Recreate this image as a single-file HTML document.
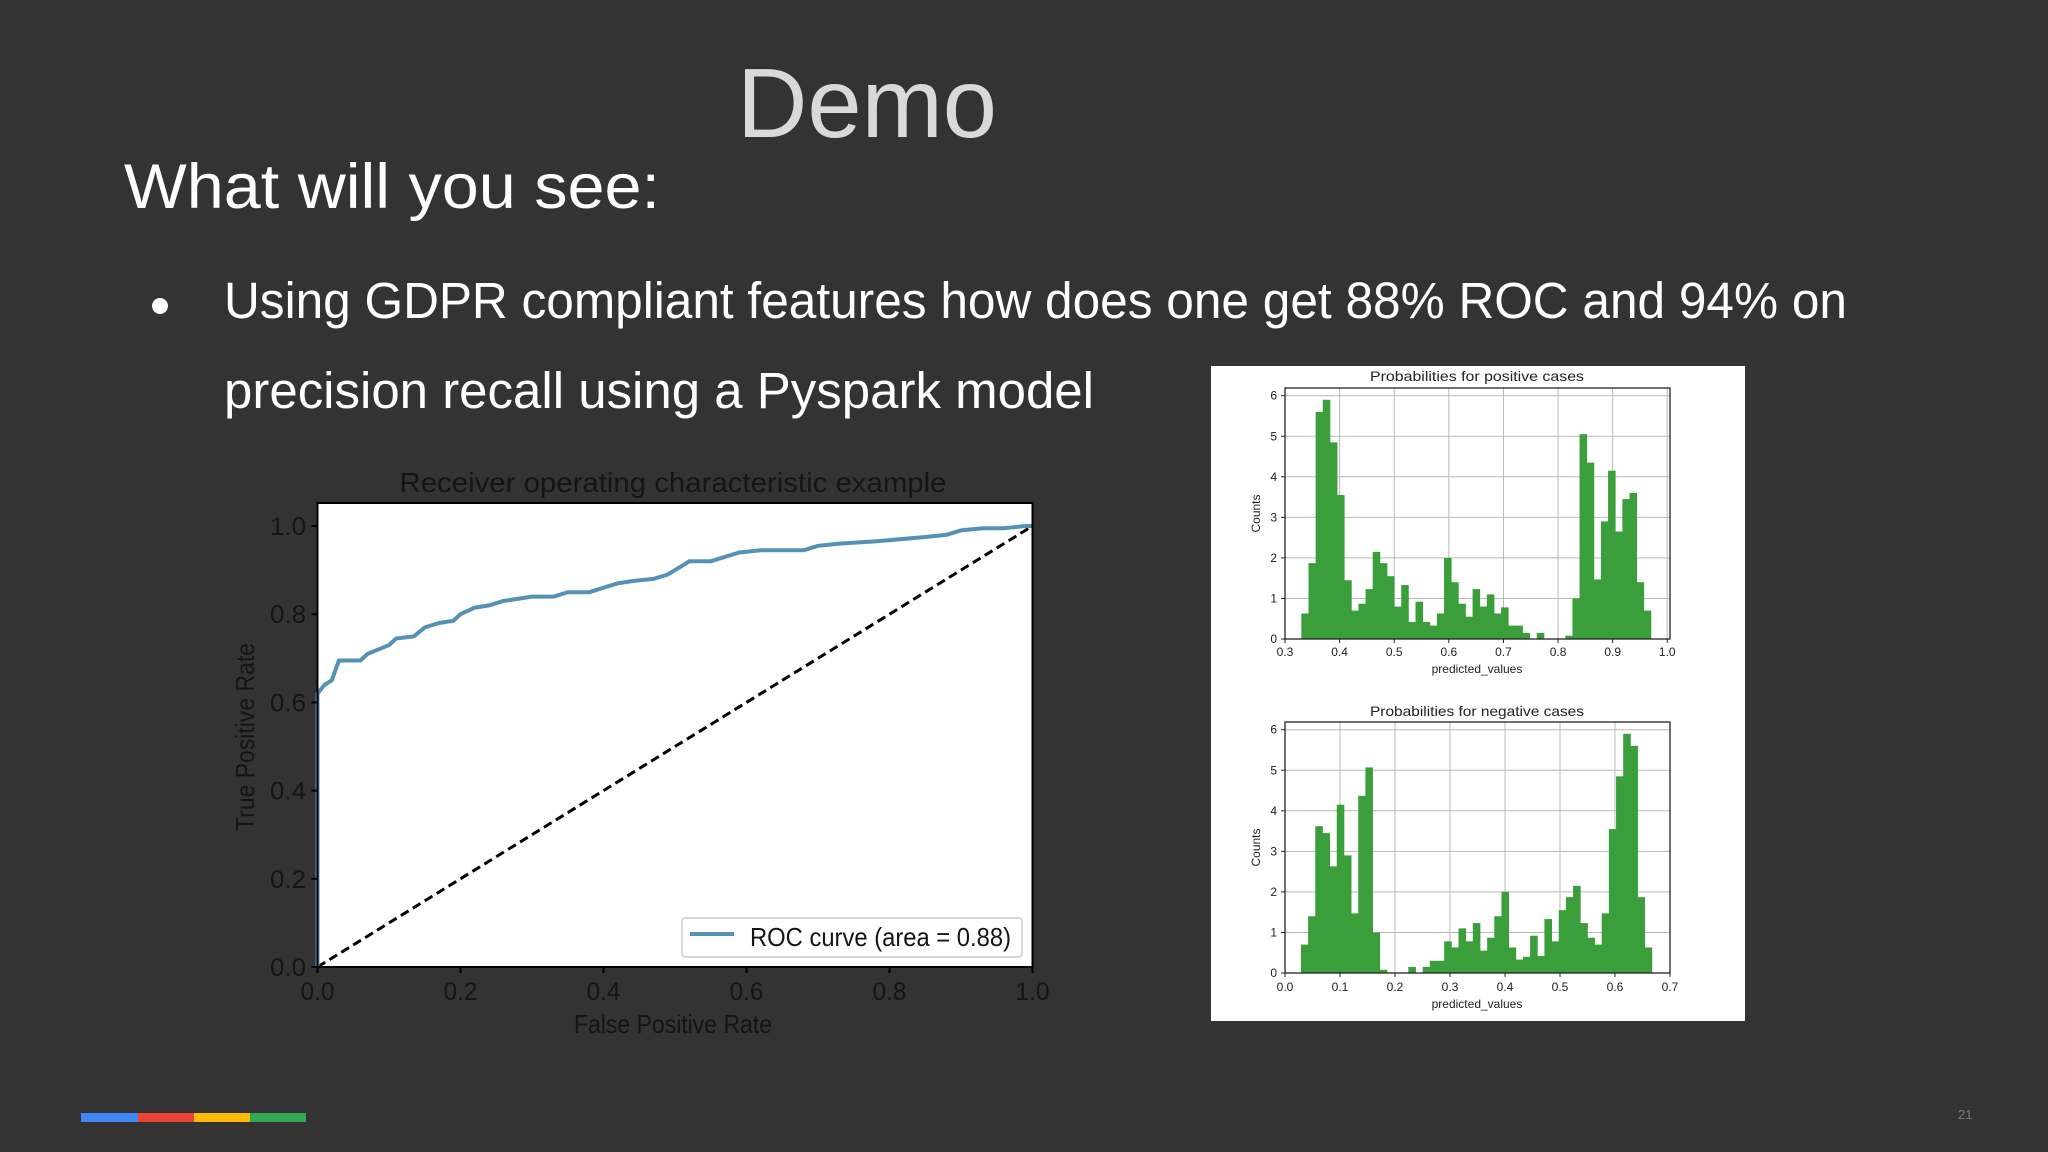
<!DOCTYPE html>
<html><head><meta charset="utf-8"><style>
html,body{margin:0;padding:0;background:#333333;}
svg{display:block;}
text{font-family:"Liberation Sans",sans-serif;}
</style></head><body>
<svg id="slide" width="2048" height="1152" viewBox="0 0 2048 1152" xmlns="http://www.w3.org/2000/svg">
<rect x="0" y="0" width="2048" height="1152" fill="#333333"/>
<text x="737" y="137" font-size="98" fill="#d9d9d9" textLength="260" lengthAdjust="spacingAndGlyphs">Demo</text>
<text x="124" y="208" font-size="63" fill="#ffffff" textLength="536" lengthAdjust="spacingAndGlyphs">What will you see:</text>
<circle cx="160" cy="306" r="8" fill="#ffffff"/>
<text x="224" y="318" font-size="51" fill="#ffffff" textLength="1623" lengthAdjust="spacingAndGlyphs">Using GDPR compliant features how does one get 88% ROC and 94% on</text>
<text x="224" y="408" font-size="51" fill="#ffffff" textLength="870" lengthAdjust="spacingAndGlyphs">precision recall using a Pyspark model</text>
<g id="roc"></g>
<rect x="1211" y="366" width="534" height="655" fill="#ffffff"/>
<g id="pos"></g>
<g id="neg"></g>
<g>
<rect x="81" y="1113" width="57" height="9" fill="#4285f4"/>
<rect x="138" y="1113" width="56" height="9" fill="#ea4335"/>
<rect x="194" y="1113" width="56" height="9" fill="#fbbc05"/>
<rect x="250" y="1113" width="56" height="9" fill="#34a853"/>
</g>
<text x="1958" y="1119" font-size="13" fill="#777777">21</text>
</svg>
<script>
// ROC data
const rocFpr = [0,0,0,0.01,0.02,0.03,0.06,0.07,0.10,0.11,0.135,0.15,0.17,0.19,0.20,0.22,0.24,0.26,0.30,0.33,0.35,0.38,0.40,0.42,0.44,0.47,0.49,0.51,0.52,0.55,0.59,0.62,0.68,0.70,0.73,0.78,0.85,0.88,0.90,0.93,0.96,0.99,1.0];
const rocTpr = [0,0.22,0.62,0.64,0.65,0.695,0.695,0.71,0.73,0.745,0.75,0.77,0.78,0.785,0.80,0.815,0.82,0.83,0.84,0.84,0.85,0.85,0.86,0.87,0.875,0.88,0.89,0.91,0.92,0.92,0.94,0.945,0.945,0.955,0.96,0.965,0.975,0.98,0.99,0.995,0.995,1.0,1.0];
const rocTicks = ["0.0","0.2","0.4","0.6","0.8","1.0"];
// Histogram data (49 bins each)
const posCounts = [0.63,1.87,5.6,5.9,4.85,3.55,1.45,0.7,0.87,1.23,2.15,1.87,1.55,0.8,1.33,0.42,0.92,0.42,0.33,0.63,2.0,1.4,0.87,0.55,1.23,0.8,1.1,0.63,0.78,0.33,0.33,0.15,0,0.15,0,0,0,0.08,1.0,5.05,4.35,1.47,2.9,4.15,2.65,3.45,3.6,1.4,0.7];
const posRange = [0.33,0.97];
const posXTicks = ["0.3","0.4","0.5","0.6","0.7","0.8","0.9","1.0"];
const negCounts = [0.7,1.4,3.62,3.45,2.63,4.15,2.9,1.47,4.37,5.07,1.0,0.08,0,0,0,0.15,0,0.15,0.3,0.3,0.78,0.63,1.1,0.78,1.23,0.55,0.87,1.4,2.0,0.63,0.33,0.4,0.92,0.42,1.33,0.78,1.55,1.87,2.15,1.23,0.87,0.7,1.47,3.55,4.85,5.9,5.6,1.87,0.63];
const negRange = [0.029,0.667];
const negXTicks = ["0.0","0.1","0.2","0.3","0.4","0.5","0.6","0.7"];
const yTicks = ["0","1","2","3","4","5","6"];

const NS = "http://www.w3.org/2000/svg";
function mk(parent, tag, attrs, txt){
  const e = document.createElementNS(NS, tag);
  for (const k in attrs) e.setAttribute(k, attrs[k]);
  if (txt !== undefined) e.textContent = txt;
  parent.appendChild(e);
  return e;
}

// ---- ROC ----
(function(){
  const g = document.getElementById('roc');
  const L=317.5,R=1032.5,T=503,B=967, y0=967, y1=526;
  const sx = v => L + v*(R-L);
  const sy = v => y0 - v*(y0-y1);
  let e = mk(g,'rect',{x:L,y:T,width:R-L,height:B-T,fill:'#ffffff'});
   
  e = mk(g,'text',{x:673,y:492,'font-size':28,fill:'#151515','text-anchor':'middle',textLength:547,lengthAdjust:'spacingAndGlyphs'},'Receiver operating characteristic example');
   
  e = mk(g,'line',{x1:sx(0),y1:sy(0),x2:sx(1),y2:sy(1),stroke:'#000',"stroke-width":3,"stroke-dasharray":"9,5"});
   
  let d = rocFpr.map((v,i)=>(i?'L':'M')+sx(v).toFixed(1)+','+sy(rocTpr[i]).toFixed(1)).join(' ');
  e = mk(g,'path',{d:d,fill:'none',stroke:'#5590b5',"stroke-width":4});
   
  e = mk(g,'rect',{x:L,y:T,width:R-L,height:B-T,fill:'none',stroke:'#000',"stroke-width":2});
   
  rocTicks.forEach((t,i)=>{
    const v = parseFloat(t);
    let a = mk(g,'line',{x1:sx(v),y1:B,x2:sx(v),y2:B+6,stroke:'#000',"stroke-width":2});
     
    a = mk(g,'text',{x:sx(v),y:1000,'font-size':25,fill:'#151515','text-anchor':'middle',textLength:34,lengthAdjust:'spacingAndGlyphs'},t);
     
    a = mk(g,'line',{x1:L-6,y1:sy(v),x2:L,y2:sy(v),stroke:'#000',"stroke-width":2});
     
    a = mk(g,'text',{x:306,y:sy(v)+9,'font-size':25,fill:'#151515','text-anchor':'end',textLength:36,lengthAdjust:'spacingAndGlyphs'},t);
     
  });
  e = mk(g,'text',{x:673,y:1033,'font-size':26,fill:'#151515','text-anchor':'middle',textLength:198,lengthAdjust:'spacingAndGlyphs'},'False Positive Rate');
   
  e = mk(g,'text',{x:0,y:0,'font-size':26,fill:'#151515','text-anchor':'middle',textLength:188,lengthAdjust:'spacingAndGlyphs',transform:'translate(254,737) rotate(-90)'},'True Positive Rate');
   
  const lg = mk(g,'g',{});
   
  mk(lg,'rect',{x:682,y:918,width:340,height:39,rx:3,fill:'#fff',stroke:'#cccccc',"stroke-width":1.5});
  mk(lg,'line',{x1:690,y1:934,x2:734,y2:934,stroke:'#5590b5',"stroke-width":4});
  e = mk(lg,'text',{x:750,y:946,'font-size':26,fill:'#151515',textLength:261,lengthAdjust:'spacingAndGlyphs'},'ROC curve (area = 0.88)');
   
})();

// ---- Histograms ----
function hist(id, counts, range, xTicks, xmin, xmax, top, bottom, title, titleY, tickY, labY){
  const g = document.getElementById(id);
  const L=1285, R=1670, ymax=6.19;
  const sx = v => L + (v-xmin)/(xmax-xmin)*(R-L);
  const sy = v => bottom - v/ymax*(bottom-top);
  let e;
  xTicks.forEach(t=>{
    const v=parseFloat(t);
    e = mk(g,'line',{x1:sx(v),y1:top,x2:sx(v),y2:bottom,stroke:'#b8b8b8',"stroke-width":1});
     
  });
  yTicks.forEach(t=>{
    const v=parseFloat(t);
    e = mk(g,'line',{x1:L,y1:sy(v),x2:R,y2:sy(v),stroke:'#b8b8b8',"stroke-width":1});
     
  });
  const w = (range[1]-range[0])/counts.length;
  counts.forEach((c,i)=>{
    if (c<=0) return;
    const x0 = sx(range[0]+i*w), x1 = sx(range[0]+(i+1)*w);
    const b = mk(g,'rect',{x:x0.toFixed(2),y:sy(c).toFixed(2),width:(x1-x0+0.4).toFixed(2),height:(bottom-sy(c)).toFixed(2),fill:'#3a9e3a'});
    
    
  });
  e = mk(g,'rect',{x:L,y:top,width:R-L,height:bottom-top,fill:'none',stroke:'#222',"stroke-width":1.3});
   
  xTicks.forEach(t=>{
    const v=parseFloat(t);
    e = mk(g,'line',{x1:sx(v),y1:bottom,x2:sx(v),y2:bottom+4,stroke:'#222',"stroke-width":1});
     
    e = mk(g,'text',{x:sx(v),y:tickY,'font-size':12,fill:'#222','text-anchor':'middle'},t);
     
  });
  yTicks.forEach(t=>{
    const v=parseFloat(t);
    e = mk(g,'line',{x1:L-4,y1:sy(v),x2:L,y2:sy(v),stroke:'#222',"stroke-width":1});
     
    e = mk(g,'text',{x:L-8,y:sy(v)+4,'font-size':12,fill:'#222','text-anchor':'end'},t);
     
  });
  e = mk(g,'text',{x:1477,y:titleY,'font-size':14,fill:'#222','text-anchor':'middle',textLength:214,lengthAdjust:'spacingAndGlyphs'},title);
   
  e = mk(g,'text',{x:1477,y:labY,'font-size':12,fill:'#222','text-anchor':'middle'},'predicted_values');
   
  e = mk(g,'text',{x:0,y:0,'font-size':12,fill:'#222','text-anchor':'middle',transform:'translate(1260,'+((top+bottom)/2)+') rotate(-90)'},'Counts');
   
}
hist('pos', posCounts, posRange, posXTicks, 0.3, 1.005, 388, 639, 'Probabilities for positive cases', 381, 656, 673);
hist('neg', negCounts, negRange, negXTicks, 0.0, 0.7, 722, 973, 'Probabilities for negative cases', 716, 991, 1008);
</script>
</body></html>
